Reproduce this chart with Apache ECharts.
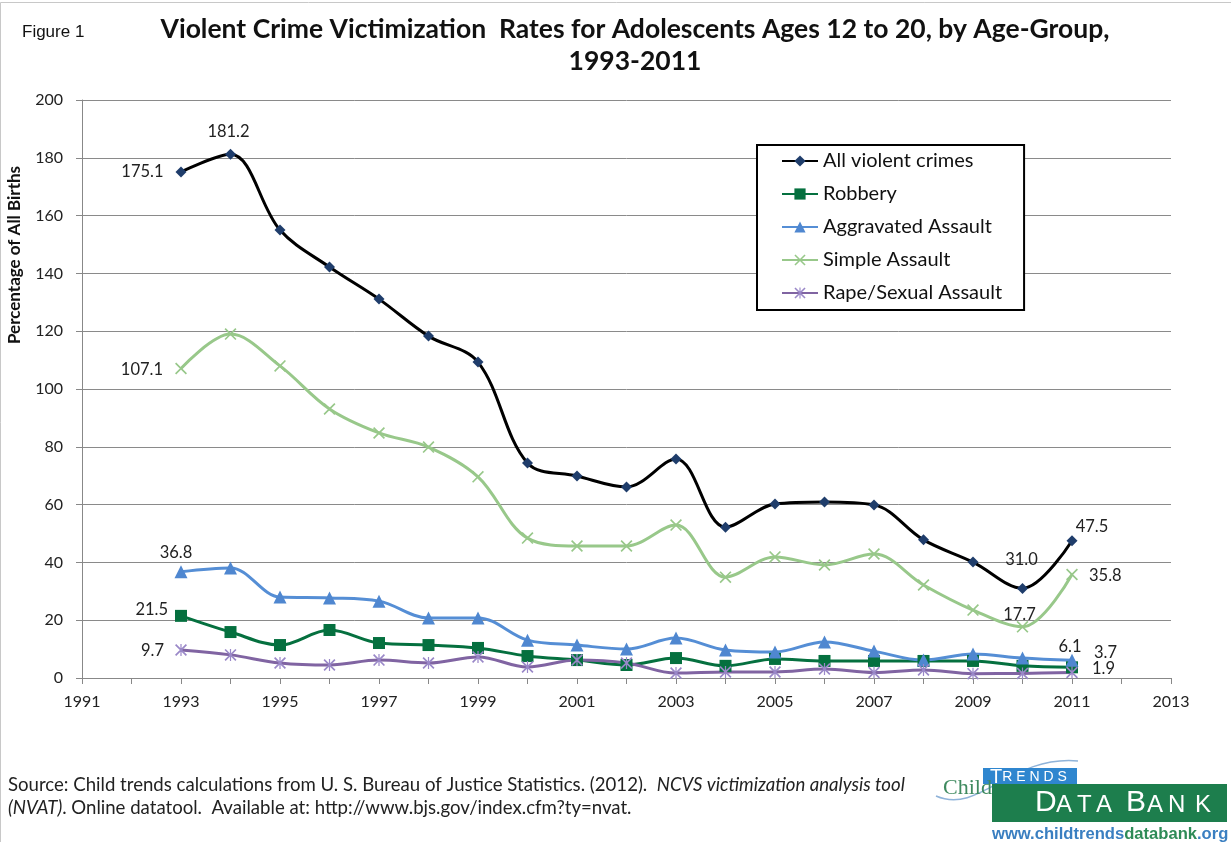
<!DOCTYPE html>
<html>
<head>
<meta charset="utf-8">
<script src="https://cdn.jsdelivr.net/npm/echarts@6/dist/echarts.min.js"></script>
<style>
html,body{margin:0;padding:0;background:#fff;}
#c{width:1231px;height:842px;}
</style>
</head>
<body>
<div id="c"></div>
<script>
// ---- Data ----
const years = [1993,1994,1995,1996,1997,1998,1999,2000,2001,2002,2003,2004,2005,2006,2007,2008,2009,2010,2011];
const seriesNames = ['All violent crimes','Robbery','Aggravated Assault','Simple Assault','Rape/Sexual Assault'];
const allViolent = [175.1,181.2,155.0,142.2,131.1,118.3,109.3,74.4,69.9,66.1,75.8,52.2,60.2,60.9,59.9,47.8,40.1,31.0,47.5];
const robbery    = [21.5,15.9,11.4,16.6,12.1,11.4,10.4,7.6,6.2,4.5,6.9,4.2,6.6,5.9,5.9,5.9,5.9,4.2,3.7];
const aggravated = [36.8,38.1,28.0,27.7,26.6,20.8,20.8,13.1,11.4,10.0,13.8,9.7,9.0,12.5,9.3,6.2,8.3,6.9,6.1];
const simple     = [107.1,119.0,108.0,93.1,84.8,79.9,69.6,48.4,45.7,45.7,52.9,34.9,41.9,39.1,42.9,32.2,23.5,17.7,35.8];
const rape       = [9.7,8.0,5.2,4.5,6.2,5.2,7.3,3.8,6.2,5.2,1.7,2.1,2.1,3.1,1.9,2.8,1.5,1.6,1.9];
const yTicks = [0,20,40,60,80,100,120,140,160,180,200];
const xTicks = [1991,1993,1995,1997,1999,2001,2003,2005,2007,2009,2011,2013];

// which points carry a value label (indices into years)
const labelled = {
  'All violent crimes': [0,1,17,18],
  'Robbery': [0,18],
  'Aggravated Assault': [0,18],
  'Simple Assault': [0,17,18],
  'Rape/Sexual Assault': [0,18]
};
// label placement (style, kept apart from data)
const labelPlace = {
  'All violent crimes': {0:['left',[-4,0]],1:['top',[-2,-1]],17:['top',[-1,-7]],18:['top',[20,8]]},
  'Robbery': {0:['left',[1,-6]],18:['right',[8,-15]]},
  'Aggravated Assault': {0:['top',[-5,4]],18:['top',[-2,9]]},
  'Simple Assault': {0:['left',[-4,1]],17:['top',[-3,10]],18:['right',[3,1]]},
  'Rape/Sexual Assault': {0:['left',[-3,1]],18:['right',[6,-4]]}
};

const styles = {
  'All violent crimes': {line:'#000000', mark:'#1F3D6B', symbol:'diamond', size:11},
  'Robbery': {line:'#05703F', mark:'#05703F', symbol:'rect', size:12},
  'Aggravated Assault': {line:'#558ED5', mark:'#4F87D0', symbol:'triangle', size:13},
  'Simple Assault': {line:'#98C88A', mark:'#98C88A', symbol:'path://M0,1 L1,0 L10,9 L9,10 Z M9,0 L10,1 L1,10 L0,9 Z', size:12},
  'Rape/Sexual Assault': {line:'#8064A2', mark:'#9A88C8', symbol:'path://M0,1 L1,0 L10,9 L9,10 Z M9,0 L10,1 L1,10 L0,9 Z M4.5,0 L5.5,0 L5.5,10 L4.5,10 Z', size:12}
};
const valuesByName = {
  'All violent crimes': allViolent,
  'Robbery': robbery,
  'Aggravated Assault': aggravated,
  'Simple Assault': simple,
  'Rape/Sexual Assault': rape
};

const FONT = 'Lato';

function buildSeries(name){
  const st = styles[name];
  const vals = valuesByName[name];
  const data = years.map((y,i)=>{
    const item = {value:[y, vals[i]]};
    if (labelled[name].indexOf(i) >= 0){
      const p = labelPlace[name][i];
      item.label = {show:true, position:p[0], offset:p[1], distance:8,
        formatter: (d)=> d.value[1].toFixed(1),
        color:'#222', fontSize:16.5, fontFamily:FONT};
    }
    return item;
  });
  return {
    name:name, type:'line', data:data, smooth:0.35,
    symbol:st.symbol, symbolSize:st.size,
    lineStyle:{color:st.line, width:3},
    itemStyle:{color:st.mark, borderWidth:0},
    emphasis:{disabled:true},
    z: 10
  };
}

// logo letters (decorative text, positions are layout)
const logoBig = '30px "Liberation Sans"';
const logoSmall = '24px "Liberation Sans"';
const databank = [['D',1035,logoBig],['A',1056,logoSmall],['T',1077,logoSmall],['A',1096,logoSmall],['B',1126,logoBig],['A',1147,logoSmall],['N',1168,logoSmall],['K',1195,logoSmall]];
const logoTexts = databank.map(d=>({type:'text', x:d[1], y:d[2]===logoBig?818:817,
  style:{text:d[0], font:d[2], fill:'#fff', textVerticalAlign:'bottom'}}));

const chart = echarts.init(document.getElementById('c'), null, {renderer:'canvas'});
chart.setOption({
  backgroundColor:'#ffffff',
  animation:false,
  grid:{left:82, right:60, top:100, bottom:164},
  title:[
    {text:'Violent Crime Victimization  Rates for Adolescents Ages 12 to 20, by Age-Group,',
     left:630, top:11, textAlign:'center',
     textStyle:{fontFamily:FONT, fontWeight:'bold', fontSize:26.5, color:'#111'}},
    {text:'1993-2011', left:630, top:43, textAlign:'center',
     textStyle:{fontFamily:FONT, fontWeight:'bold', fontSize:26.5, color:'#111'}}
  ],
  legend:{
    orient:'vertical', left:757, top:145,
    data:seriesNames,
    itemWidth:36, itemHeight:14, itemGap:13,
    padding:[6,22,7,24],
    borderColor:'#000', borderWidth:2, backgroundColor:'#fff',
    textStyle:{fontFamily:FONT, fontSize:20, color:'#111'}
  },
  xAxis:{
    type:'value', min:1991, max:2013, interval:2,
    axisLine:{lineStyle:{color:'#888', width:1}},
    axisTick:{show:true, length:6, lineStyle:{color:'#888'}},
    minorTick:{show:true, splitNumber:2, length:6, lineStyle:{color:'#888'}},
    splitLine:{show:false},
    axisLabel:{fontFamily:FONT, fontSize:16, color:'#222', margin:16,
      formatter:(v)=> xTicks.indexOf(v)>=0 ? String(v) : ''}
  },
  yAxis:{
    type:'value', min:0, max:200, interval:20,
    axisLine:{show:true, lineStyle:{color:'#888', width:1}},
    axisTick:{show:true, length:6, lineStyle:{color:'#888'}},
    splitLine:{show:true, lineStyle:{color:'#8a8a8a', width:1}},
    axisLabel:{fontFamily:FONT, fontSize:16, color:'#222', margin:19,
      formatter:(v)=> yTicks.indexOf(v)>=0 ? String(v) : ''}
  },
  series: seriesNames.map(buildSeries),
  graphic:[
    {type:'rect', shape:{x:0.5,y:2.5,width:1240,height:850}, style:{fill:'none', stroke:'#c8c8c8', lineWidth:1}, silent:true},
    {type:'text', x:22, y:24, style:{text:'Figure 1', font:'17px "Liberation Sans"', fill:'#111'}},
    {type:'text', x:15, y:255, rotation:Math.PI/2,
     style:{text:'Percentage of All Births', font:'bold 17px '+FONT, fill:'#111', textAlign:'center', textVerticalAlign:'middle'}},
    {type:'text', x:8, y:773, style:{
      text:'{n|Source: Child trends calculations from U. S. Bureau of Justice Statistics. (2012).  }{i|NCVS victimization analysis tool}\n{i|(NVAT)}{n|. Online datatool.  Available at: http://www.bjs.gov/index.cfm?ty=nvat.}',
      rich:{
        n:{font:'18.6px '+FONT, fill:'#222', lineHeight:23},
        i:{font:'italic 18.6px '+FONT, fill:'#222', lineHeight:23}
      }}},
    // logo
    {type:'bezierCurve', shape:{x1:936,y1:796,cpx1:980,cpy1:815,cpx2:1010,cpy2:755,x2:1078,y2:761}, style:{stroke:'#8FB3D9', lineWidth:1.5, fill:'none'}},
    {type:'rect', shape:{x:983,y:768,width:94,height:16}, style:{fill:'#2F86CF'}},
    {type:'text', x:990, y:767, style:{text:'{b|T}{s|R E N D S}', rich:{b:{font:'20px "Liberation Sans"', fill:'#fff'}, s:{font:'14px "Liberation Sans"', fill:'#fff'}}}},
    {type:'text', x:943, y:777, style:{text:'Child', font:'22px "Liberation Serif"', fill:'#3F8A5F'}},
    {type:'rect', shape:{x:992,y:784,width:235,height:38}, style:{fill:'#1D7E4D'}},
    ...logoTexts,
    {type:'text', x:992, y:826, style:{text:'{b|www.childtrends}{g|databank}{b|.org}',
      rich:{b:{font:'bold 16.6px "Liberation Sans"', fill:'#3A7FC1'}, g:{font:'bold 16.6px "Liberation Sans"', fill:'#2E8B57'}}}}
  ]
});
</script>
</body>
</html>
